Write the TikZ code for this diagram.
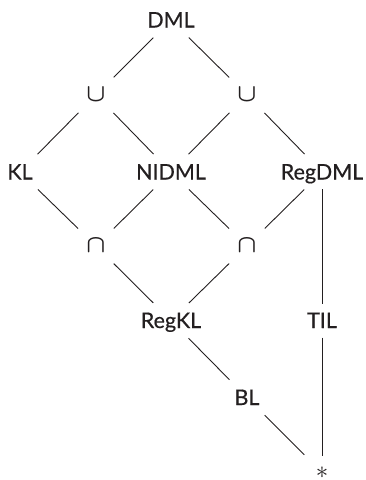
\documentclass[tikz,border=0pt]{standalone}
\usepackage{fontspec}
\setmainfont{Lato}
\newfontfamily\labelfont[FakeBold=0.5]{Lato}
\definecolor{ink}{HTML}{231F20}
\begin{document}
\begin{tikzpicture}[x=1pt,y=-1pt,
  lbl/.style={font=\labelfont\fontsize{21.5}{21.5}\selectfont, text=ink, inner sep=0pt,
              text height=15pt, text depth=0pt},
  op/.style={font=\fontsize{25}{25}\selectfont\boldmath, text=ink, inner sep=0pt,
             text height=13.9pt, text depth=0pt},
  edge/.style={draw=ink, line width=0.9pt, shorten <=25pt, shorten >=25pt},
  vedge/.style={draw=ink, line width=0.9pt, shorten <=17pt, shorten >=17pt}]
\useasboundingbox (0,0) rectangle (366,480);

% lattice nodes on a 75.5pt grid
\node[lbl] (DML)    at (171,20)    {DML};
\node[op]  (cupL)   at (96,95)     {$\cup$};
\node[op]  (cupR)   at (247,95)    {$\cup$};
\node[lbl] (KL)     at (20,172)    {KL};
\node[lbl] (NIDML)  at (171,172)   {NIDML};
\node[lbl] (RegDML) at (322,172)   {RegDML};
\node[op]  (capL)   at (96,246)    {$\cap$};
\node[op]  (capR)   at (247,246)   {$\cap$};
\node[lbl] (RegKL)  at (171,320.5) {RegKL};
\node[lbl] (TIL)    at (322,320.5) {TIL};
\node[lbl] (BL)     at (247,397.5) {BL};
\node[font=\fontsize{23}{23}\selectfont, text=ink, inner sep=0pt,
      text height=11.5pt, text depth=0pt] (star) at (322,472.5) {$\ast$};

% connectors
\draw[edge] (DML.center) -- (cupL.center);
\draw[edge] (DML.center) -- (cupR.center);
\draw[edge] (cupL.center) -- (KL.center);
\draw[edge] (cupL.center) -- (NIDML.center);
\draw[edge] (cupR.center) -- (NIDML.center);
\draw[edge] (cupR.center) -- (RegDML.center);
\draw[edge] (KL.center) -- (capL.center);
\draw[edge] (NIDML.center) -- (capL.center);
\draw[edge] (NIDML.center) -- (capR.center);
\draw[edge] (RegDML.center) -- (capR.center);
\draw[edge] (capL.center) -- (RegKL.center);
\draw[edge] (capR.center) -- (RegKL.center);
\draw[edge] (RegKL.center) -- (BL.center);
\draw[edge] (BL.center) -- (star.center);
\draw[vedge] (RegDML.center) -- (TIL.center);
\draw[vedge] (TIL.center) -- (star.center);
\end{tikzpicture}
\end{document}
